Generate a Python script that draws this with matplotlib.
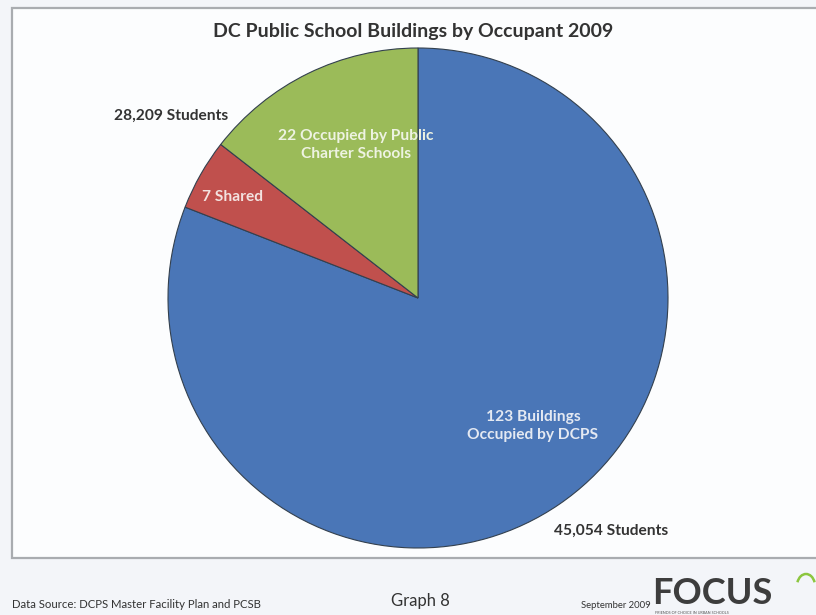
import matplotlib.pyplot as plt
from matplotlib.patches import Rectangle, Arc

plt.rcParams['font.family'] = ['Lato', 'DejaVu Sans']

occupants = ["Occupied by DCPS", "Shared", "Occupied by Public Charter Schools"]
buildings = [123, 7, 22]
colors = ["#4a76b7", "#c0504d", "#9bbb59"]
inner_labels = ["123 Buildings\nOccupied by DCPS", "7 Shared",
                "22 Occupied by Public\nCharter Schools"]
student_labels = ["45,054 Students", "28,209 Students"]

W, H = 816, 615
fig = plt.figure(figsize=(W / 100, H / 100), dpi=100)
fig.patch.set_facecolor("#f3f5f9")


def fx(px):
    return px / W


def fy(py):
    return 1 - py / H


# chart frame
fig.patches.append(Rectangle((fx(12), fy(558)), fx(W + 10) - fx(12), fy(8) - fy(558),
                             transform=fig.transFigure, facecolor="#fcfdfe",
                             edgecolor="#a9acb0", linewidth=1.6, zorder=-5))

cx, cy, r = 418, 298, 250
ax = fig.add_axes([fx(cx - r), fy(cy + r), fx(2 * r), fy(cy - r) - fy(cy + r)],
                  zorder=2)
wedges, _ = ax.pie(buildings, colors=colors, startangle=90, counterclock=False,
                   radius=1.0, wedgeprops=dict(edgecolor="#33404e", linewidth=0.8))
ax.set_xlim(-1, 1)
ax.set_ylim(-1, 1)
ax.set_axis_off()

txt_kw = dict(transform=fig.transFigure, ha="center", va="center",
              fontweight="bold", zorder=5)
fig.text(fx(413), fy(32), "DC Public School Buildings by Occupant 2009",
         fontsize=14, color="#333333", **txt_kw)

fig.text(fx(533), fy(426), inner_labels[0], fontsize=11.2, color="#e4e9f2",
         linespacing=1.3, **txt_kw)
fig.text(fx(232), fy(197), inner_labels[1], fontsize=11.2, color="#f3e2e0", **txt_kw)
fig.text(fx(356), fy(145), inner_labels[2], fontsize=11.2, color="#eef3e2",
         linespacing=1.3, **txt_kw)
fig.text(fx(611), fy(531), student_labels[0], fontsize=11.2, color="#333333", **txt_kw)
fig.text(fx(171), fy(116), student_labels[1], fontsize=11.2, color="#333333", **txt_kw)

# footer
fig.text(fx(12), fy(604), "Data Source: DCPS Master Facility Plan and PCSB",
         transform=fig.transFigure, ha="left", va="center", fontsize=8.2,
         color="#333333")
fig.text(fx(420), fy(601), "Graph 8", transform=fig.transFigure, ha="center",
         va="center", fontsize=12, color="#333333")
fig.text(fx(651), fy(605), "September 2009", transform=fig.transFigure, ha="right",
         va="center", fontsize=6.8, color="#333333")
fig.text(fx(652), fy(604), "FOCUS", transform=fig.transFigure, ha="left",
         va="baseline", fontsize=26, color="#3d3d3d", fontweight="bold")
fig.text(fx(655), fy(612.5), "FRIENDS OF CHOICE IN URBAN SCHOOLS",
         transform=fig.transFigure, ha="left", va="center", fontsize=2.7,
         color="#555555")
fig.patches.append(Arc((fx(806), fy(586)), fx(18), fy(572) - fy(596),
                       theta1=30, theta2=150, transform=fig.transFigure,
                       color="#8cc63f", linewidth=1.8))

fig.savefig("out.png", dpi=100, facecolor=fig.get_facecolor())
